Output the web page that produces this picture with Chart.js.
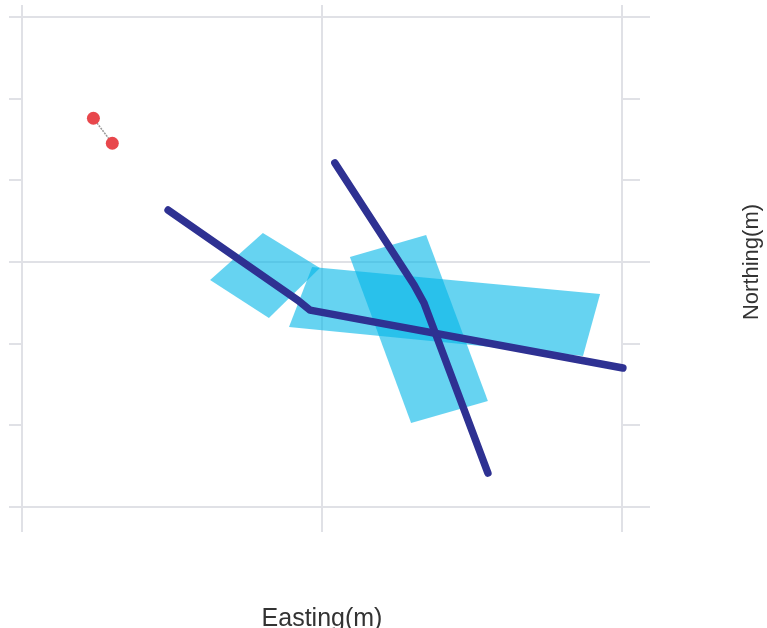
<!DOCTYPE html>
<html>
<head>
<meta charset="utf-8">
<script src="https://cdn.jsdelivr.net/npm/chart.js@4/dist/chart.umd.min.js"></script>
<style>
  html, body { margin: 0; padding: 0; background: #fff; }
  #wrap { width: 767px; height: 628px; }
</style>
</head>
<body>
<div id="wrap"><canvas id="surveyChart" width="767" height="628"></canvas></div>
<script>
// axis ranges / tick values (labels are not shown in the original)
const eastingTicks = [0, 100, 200];
const northingTicks = [0, 50, 100, 150, 200, 250, 300];
const northingMajor = [0, 150, 300];

// survey stations (red points)
const stationsE = [23.8, 30.1];
const stationsN = [238.0, 222.7];

// profile lines
const lineAE = [48.7, 92.0, 96.0, 200.3];
const lineAN = [181.8, 126.5, 120.5, 85.1];
const lineBE = [104.3, 130.7, 134.0, 155.3];
const lineBN = [210.6, 135.9, 124.9, 20.8];

// footprint blocks (closed polygons)
const block1E = [80.3, 99.3, 82.3, 62.7, 80.3];
const block1N = [167.8, 146.3, 115.7, 139.0, 167.8];
const block2E = [96.7, 192.7, 187.0, 89.0, 96.7];
const block2N = [146.9, 130.4, 92.4, 110.2, 146.9];
const block3E = [109.3, 134.7, 155.3, 129.7, 109.3];
const block3N = [153.1, 166.5, 64.9, 51.4, 153.1];

const toPts = (xs, ys) => xs.map((x, i) => ({ x: x, y: ys[i] }));

const gridGrey = '#e0e1e6';
const blockFill = 'rgba(0, 182, 232, 0.6)';

function blockSet(xs, ys) {
  return {
    data: toPts(xs, ys),
    showLine: true,
    fill: 'shape',
    backgroundColor: blockFill,
    borderColor: 'transparent',
    borderWidth: 0,
    pointRadius: 0,
    clip: false
  };
}

function lineSet(xs, ys) {
  return {
    data: toPts(xs, ys),
    showLine: true,
    borderColor: '#2e3192',
    borderWidth: 7.5,
    borderJoinStyle: 'round',
    borderCapStyle: 'round',
    pointRadius: 0,
    clip: false
  };
}

const sideTitle = {
  id: 'sideTitle',
  afterDraw(chart) {
    const ctx = chart.ctx;
    const area = chart.chartArea;
    ctx.save();
    ctx.translate(area.right + 130, (area.top + area.bottom) / 2);
    ctx.rotate(-Math.PI / 2);
    ctx.font = '22px "Liberation Sans", Arial, sans-serif';
    ctx.fillStyle = '#333';
    ctx.textAlign = 'center';
    ctx.textBaseline = 'middle';
    ctx.fillText('Northing(m)', 0, 0);
    ctx.restore();
  }
};

const yBase = {
  type: 'linear',
  min: northingTicks[0],
  max: northingTicks[northingTicks.length - 1],
  ticks: { display: false, stepSize: 50 },
  border: { display: false }
};
const xBase = {
  type: 'linear',
  min: eastingTicks[0],
  max: eastingTicks[eastingTicks.length - 1],
  ticks: { display: false, stepSize: 100 },
  border: { display: false }
};
const isMajor = c => northingMajor.includes(c.tick.value);

new Chart(document.getElementById('surveyChart'), {
  type: 'scatter',
  data: {
    datasets: [
      {
        data: toPts(stationsE, stationsN),
        showLine: true,
        borderColor: '#999',
        borderWidth: 1.5,
        borderDash: [2, 1],
        pointRadius: 6.5,
        pointBorderWidth: 0,
        pointBackgroundColor: '#e8474c'
      },
      lineSet(lineAE, lineAN),
      lineSet(lineBE, lineBN),
      blockSet(block1E, block1N),
      blockSet(block2E, block2N),
      blockSet(block3E, block3N)
    ]
  },
  options: {
    responsive: false,
    animation: false,
    layout: { padding: { left: 9, right: 117, top: 5, bottom: 0 } },
    plugins: { legend: { display: false }, tooltip: { enabled: false } },
    scales: {
      x: {
        ...xBase,
        position: 'bottom',
        grid: { color: gridGrey, lineWidth: 2, tickLength: 25 },
        title: {
          display: true,
          text: 'Easting(m)',
          color: '#333',
          font: { family: '"Liberation Sans", Arial, sans-serif', size: 25 },
          padding: { top: 72, bottom: -6 }
        }
      },
      xTop: {
        ...xBase,
        position: 'top',
        grid: { drawOnChartArea: false, color: gridGrey, lineWidth: 2, tickLength: 12 }
      },
      y: {
        ...yBase,
        position: 'left',
        grid: {
          color: c => isMajor(c) ? gridGrey : 'transparent',
          tickColor: gridGrey,
          lineWidth: 2,
          tickLength: 13
        }
      },
      yRight: {
        ...yBase,
        position: 'right',
        weight: 0,
        grid: { drawOnChartArea: false, color: gridGrey, lineWidth: 2, tickLength: 18 }
      },
      yRightMajor: {
        ...yBase,
        position: 'right',
        weight: 1,
        grid: {
          drawOnChartArea: false,
          color: c => isMajor(c) ? gridGrey : 'transparent',
          lineWidth: 2,
          tickLength: 10
        }
      }
    }
  },
  plugins: [sideTitle]
});
</script>
</body>
</html>
